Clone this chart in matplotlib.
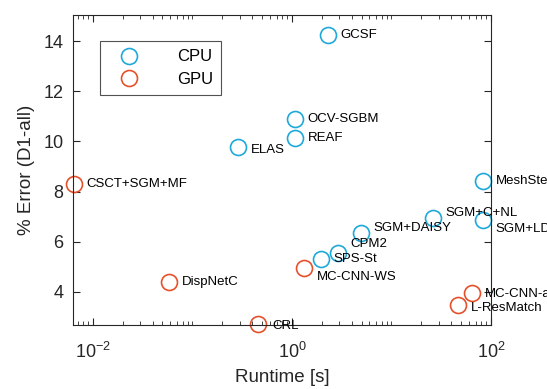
import matplotlib
matplotlib.use("Agg")
import matplotlib.pyplot as plt
from matplotlib.ticker import FixedLocator, LogFormatterSciNotation, NullFormatter

plt.rcParams['font.family'] = ['Liberation Sans', 'DejaVu Sans']
plt.rcParams['mathtext.fontset'] = 'custom'
plt.rcParams['mathtext.rm'] = 'Liberation Sans'
plt.rcParams['mathtext.it'] = 'Liberation Sans'

# CPU methods: runtime [s], error [%]
cpu_names = ["GCSF", "OCV-SGBM", "REAF", "ELAS", "MeshStereo", "SGM+C+NL",
             "SGM+LDOF", "SGM+DAISY", "CPM2", "SPS-St"]
cpu_runtime = [2.3, 1.07, 1.07, 0.29, 83, 26, 83, 4.9, 2.9, 1.96]
cpu_error = [14.24, 10.88, 10.13, 9.76, 8.42, 6.94, 6.86, 6.34, 5.55, 5.33]

# GPU methods
gpu_names = ["CSCT+SGM+MF", "DispNetC", "CRL", "MC-CNN-WS", "MC-CNN-acrt", "L-ResMatch"]
gpu_runtime = [0.0064, 0.058, 0.46, 1.32, 65, 47]
gpu_error = [8.3, 4.38, 2.74, 4.97, 3.96, 3.48]

# label offsets in points
cpu_offsets = [(9, 0), (9, 0), (9, 0), (9, -1.5), (9, 0), (9, 3.5),
               (9, -6.5), (9, 3.5), (9, 6.5), (9, -0.5)]
gpu_offsets = [(9, 0), (9, 0), (10, -1.5), (9, -6.5), (9, -0.5), (9, -2)]

cpu_color = "#1FA9D9"
gpu_color = "#E5512B"
ink = '#262626'

fig = plt.figure(figsize=(5.47, 3.89), dpi=100)
ax = fig.add_axes([0.1335, 0.1645, 0.7641, 0.7969])

ms = 11.5
ax.plot(cpu_runtime, cpu_error, 'o', mfc='none', mec=cpu_color, mew=1.2,
        ms=ms, label='CPU', clip_on=False)
ax.plot(gpu_runtime, gpu_error, 'o', mfc='none', mec=gpu_color, mew=1.2,
        ms=ms, label='GPU', clip_on=False)

for n, x, y, off in zip(cpu_names, cpu_runtime, cpu_error, cpu_offsets):
    ax.annotate(n, (x, y), xytext=off, textcoords='offset points',
                fontsize=9.5, va='center', ha='left', annotation_clip=False)
for n, x, y, off in zip(gpu_names, gpu_runtime, gpu_error, gpu_offsets):
    ax.annotate(n, (x, y), xytext=off, textcoords='offset points',
                fontsize=9.5, va='center', ha='left', annotation_clip=False)

ax.set_xscale('log')
ax.set_xlim(10 ** -2.2, 100)
ax.set_ylim(2.68, 15.04)

ax.xaxis.set_major_locator(FixedLocator([1e-2, 1, 1e2]))
ax.xaxis.set_major_formatter(LogFormatterSciNotation())
minor = [m * 10.0 ** e for e in range(-3, 3) for m in range(1, 10)]
minor = [v for v in minor if v not in (1e-2, 1, 1e2)]
ax.xaxis.set_minor_locator(FixedLocator(minor))
ax.xaxis.set_minor_formatter(NullFormatter())
ax.set_yticks([4, 6, 8, 10, 12, 14])

ax.tick_params(which='both', direction='in', top=True, right=True,
               labelsize=13, color=ink, labelcolor=ink)
ax.tick_params(axis='y', pad=7)
ax.tick_params(axis='x', pad=12)
ax.tick_params(which='major', length=5, width=0.8)
ax.tick_params(which='minor', length=2.8, width=0.6)
for s in ax.spines.values():
    s.set_color(ink)
    s.set_linewidth(0.8)

ax.set_xlabel('Runtime [s]', fontsize=13.5, color=ink, labelpad=5)
ax.set_ylabel('% Error (D1-all)', fontsize=13.5, color=ink, labelpad=6)

leg = ax.legend(loc='upper left', bbox_to_anchor=(0.0646, 0.916), fontsize=12,
                frameon=True, fancybox=False, edgecolor=ink,
                handletextpad=1.6, borderpad=0.5, labelspacing=0.45,
                handlelength=2.5, borderaxespad=0)
leg.get_frame().set_linewidth(0.8)

fig.savefig('out.png', dpi=100)
